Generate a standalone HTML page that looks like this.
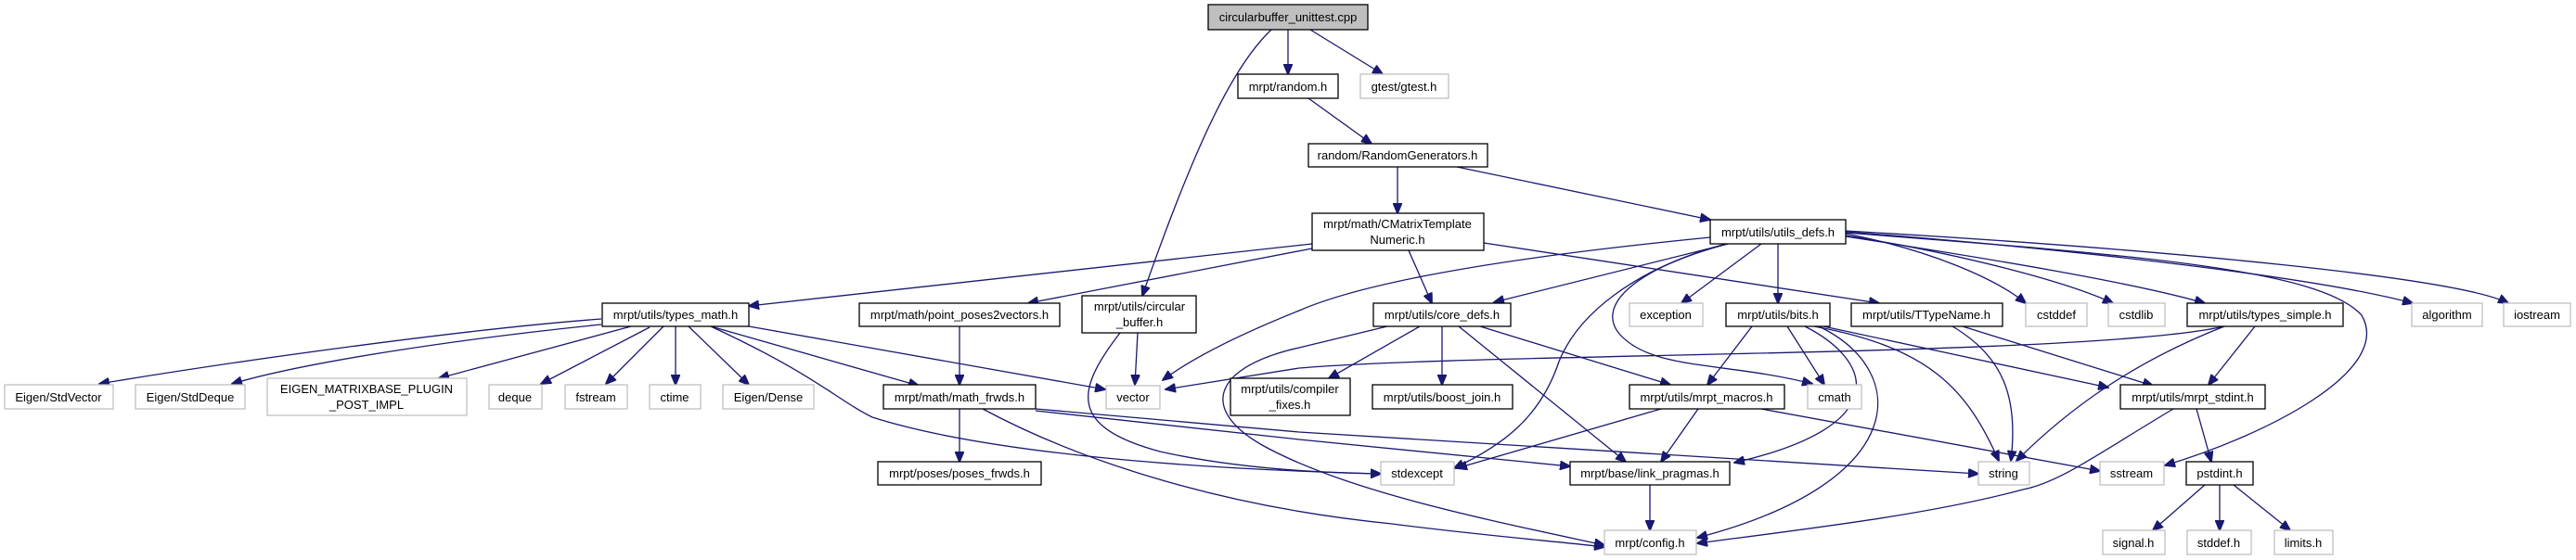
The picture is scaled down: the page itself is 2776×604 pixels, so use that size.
<!DOCTYPE html>
<html><head><meta charset="utf-8"><style>
html,body{margin:0;padding:0;background:#fff;}
svg{display:block;}
text{font-family:"Liberation Sans",Arial,sans-serif;font-size:13px;fill:#000;}
.e{fill:none;stroke:#191970;stroke-width:1.3;}
.n{fill:#fff;stroke:#000;stroke-width:1.3;}
.x{fill:#fff;stroke:#bfbfbf;stroke-width:1.3;}
</style></head><body>
<svg width="2776" height="604" viewBox="0 0 2776 604" xmlns="http://www.w3.org/2000/svg">
<defs><marker id="a" markerUnits="userSpaceOnUse" markerWidth="12" markerHeight="10" refX="11" refY="5" orient="auto"><path d="M0,0 L12,5 L0,10 z" fill="#191970" stroke="#191970"/></marker></defs>
<g class="e" marker-end="url(#a)">
<path d="M1388,32 L1388,80"/>
<path d="M1412,32 L1490,80"/>
<path d="M1370,32 C1330,70 1290,150 1231,319"/>
<path d="M1410,106 L1478,155"/>
<path d="M1506,180 L1506,230"/>
<path d="M1570,180 L1843,237"/>
<path d="M1414,263 L807,330"/>
<path d="M1414,268 L1108,327"/>
<path d="M1518,270 L1543,327"/>
<path d="M1599,262 L2025,327"/>
<path d="M1843,256 C1650,275 1480,300 1400,335 Q1300,375 1253,410"/>
<path d="M2397,352 C2250,385 1600,380 1400,397 L1256,420"/>
<path d="M766,352 C880,405 900,430 940,450 C1050,485 1250,505 1488,511"/>
<path d="M1207,359 C1160,420 1150,460 1250,487 C1330,505 1420,510 1488,511"/>
<path d="M1495,352 L1400,375 C1310,395 1290,440 1360,480 C1450,530 1600,560 1729,588"/>
<path d="M1059,441 C1150,490 1300,545 1500,565 C1600,578 1680,584 1729,590"/>
<path d="M1116,443 L1400,474 L1692,503"/>
<path d="M1116,441 L1400,466 L2132,511"/>
<path d="M807,352 L1191,420"/>
<path d="M766,352 L990,416"/>
<path d="M648,344 C500,355 250,390 107,414"/>
<path d="M648,350 C500,365 330,390 250,414"/>
<path d="M680,352 L473,408"/>
<path d="M700,353 L583,414"/>
<path d="M715,352 L653,414"/>
<path d="M728,352 L728,415"/>
<path d="M742,352 L807,415"/>
<path d="M1034,352 L1034,415"/>
<path d="M1034,441 L1034,498"/>
<path d="M1226,359 L1223,415"/>
<path d="M1862,263 L1610,326"/>
<path d="M1898,263 L1812,327"/>
<path d="M1916,263 L1916,327"/>
<path d="M1860,263 C1760,290 1700,340 1680,390 C1660,450 1620,480 1567,505"/>
<path d="M1862,263 C1760,290 1720,330 1745,360 C1780,400 1860,390 1953,414"/>
<path d="M1989,252 C2080,270 2150,300 2183,327"/>
<path d="M1989,254 C2120,275 2230,305 2277,327"/>
<path d="M1989,255 C2150,280 2300,305 2376,327"/>
<path d="M1989,250 C2250,270 2500,300 2600,327"/>
<path d="M1989,249 C2350,270 2650,300 2703,327"/>
<path d="M1989,251 C2300,275 2500,290 2545,340 C2580,400 2440,470 2333,502"/>
<path d="M1888,352 L1840,415"/>
<path d="M1926,352 L1966,415"/>
<path d="M1945,352 C2020,390 2040,460 1869,499"/>
<path d="M1960,352 C2060,400 2060,520 1829,580"/>
<path d="M1955,352 C2080,375 2120,420 2154,497"/>
<path d="M1965,352 L2272,418"/>
<path d="M2104,352 C2160,385 2175,430 2167,497"/>
<path d="M2115,352 L2320,416"/>
<path d="M2397,352 C2300,390 2230,440 2173,497"/>
<path d="M2430,352 L2380,415"/>
<path d="M2367,441 L2383,498"/>
<path d="M2342,441 C2260,490 2220,520 2180,528 C2080,555 1950,570 1829,586"/>
<path d="M2376,523 L2320,572"/>
<path d="M2392,523 L2392,572"/>
<path d="M2407,523 L2468,572"/>
<path d="M1530,352 L1432,408"/>
<path d="M1554,352 L1554,415"/>
<path d="M1572,352 L1752,498"/>
<path d="M1595,352 L1800,415"/>
<path d="M1790,441 L1570,505"/>
<path d="M1830,441 L1790,498"/>
<path d="M1898,441 L2263,508"/>
<path d="M1778,523 L1778,572"/>
</g>
<g>
<rect x="1302" y="5" width="172" height="27" fill="#bfbfbf" stroke="#000" stroke-width="1.3"/><text x="1388" y="23" text-anchor="middle">circularbuffer_unittest.cpp</text>
<rect class="n" x="1334" y="80" width="108" height="26"/><text x="1388" y="98" text-anchor="middle">mrpt/random.h</text>
<rect class="x" x="1466" y="80" width="95" height="26"/><text x="1513" y="98" text-anchor="middle">gtest/gtest.h</text>
<rect class="n" x="1410" y="155" width="193" height="25"/><text x="1506" y="172" text-anchor="middle">random/RandomGenerators.h</text>
<rect class="n" x="1414" y="230" width="185" height="40"/><text x="1506" y="246" text-anchor="middle">mrpt/math/CMatrixTemplate</text><text x="1506" y="263" text-anchor="middle">Numeric.h</text>
<rect class="n" x="1843" y="237" width="146" height="26"/><text x="1916" y="255" text-anchor="middle">mrpt/utils/utils_defs.h</text>
<rect class="n" x="649" y="327" width="158" height="25"/><text x="728" y="344" text-anchor="middle">mrpt/utils/types_math.h</text>
<rect class="n" x="926" y="327" width="216" height="25"/><text x="1034" y="344" text-anchor="middle">mrpt/math/point_poses2vectors.h</text>
<rect class="n" x="1166" y="319" width="123" height="40"/><text x="1228" y="335" text-anchor="middle">mrpt/utils/circular</text><text x="1228" y="352" text-anchor="middle">_buffer.h</text>
<rect class="n" x="1480" y="327" width="148" height="25"/><text x="1554" y="344" text-anchor="middle">mrpt/utils/core_defs.h</text>
<rect class="x" x="1756" y="327" width="79" height="25"/><text x="1795" y="344" text-anchor="middle">exception</text>
<rect class="n" x="1860" y="327" width="112" height="25"/><text x="1916" y="344" text-anchor="middle">mrpt/utils/bits.h</text>
<rect class="n" x="1995" y="327" width="163" height="25"/><text x="2076" y="344" text-anchor="middle">mrpt/utils/TTypeName.h</text>
<rect class="x" x="2183" y="327" width="66" height="25"/><text x="2216" y="344" text-anchor="middle">cstddef</text>
<rect class="x" x="2272" y="327" width="61" height="25"/><text x="2302" y="344" text-anchor="middle">cstdlib</text>
<rect class="n" x="2357" y="327" width="168" height="25"/><text x="2441" y="344" text-anchor="middle">mrpt/utils/types_simple.h</text>
<rect class="x" x="2599" y="327" width="76" height="25"/><text x="2637" y="344" text-anchor="middle">algorithm</text>
<rect class="x" x="2698" y="327" width="72" height="25"/><text x="2734" y="344" text-anchor="middle">iostream</text>
<rect class="x" x="5" y="415" width="117" height="26"/><text x="63" y="433" text-anchor="middle">Eigen/StdVector</text>
<rect class="x" x="146" y="415" width="118" height="26"/><text x="205" y="433" text-anchor="middle">Eigen/StdDeque</text>
<rect class="x" x="288" y="408" width="215" height="40"/><text x="395" y="424" text-anchor="middle">EIGEN_MATRIXBASE_PLUGIN</text><text x="395" y="441" text-anchor="middle">_POST_IMPL</text>
<rect class="x" x="527" y="415" width="57" height="26"/><text x="555" y="433" text-anchor="middle">deque</text>
<rect class="x" x="609" y="415" width="67" height="26"/><text x="642" y="433" text-anchor="middle">fstream</text>
<rect class="x" x="700" y="415" width="55" height="26"/><text x="727" y="433" text-anchor="middle">ctime</text>
<rect class="x" x="779" y="415" width="98" height="26"/><text x="828" y="433" text-anchor="middle">Eigen/Dense</text>
<rect class="n" x="952" y="415" width="164" height="26"/><text x="1034" y="433" text-anchor="middle">mrpt/math/math_frwds.h</text>
<rect class="x" x="1192" y="416" width="58" height="25"/><text x="1221" y="433" text-anchor="middle">vector</text>
<rect class="n" x="1326" y="408" width="129" height="40"/><text x="1390" y="424" text-anchor="middle">mrpt/utils/compiler</text><text x="1390" y="441" text-anchor="middle">_fixes.h</text>
<rect class="n" x="1479" y="415" width="151" height="26"/><text x="1554" y="433" text-anchor="middle">mrpt/utils/boost_join.h</text>
<rect class="n" x="1756" y="415" width="167" height="26"/><text x="1839" y="433" text-anchor="middle">mrpt/utils/mrpt_macros.h</text>
<rect class="x" x="1948" y="415" width="58" height="26"/><text x="1977" y="433" text-anchor="middle">cmath</text>
<rect class="n" x="2285" y="415" width="156" height="26"/><text x="2363" y="433" text-anchor="middle">mrpt/utils/mrpt_stdint.h</text>
<rect class="n" x="946" y="498" width="176" height="25"/><text x="1034" y="515" text-anchor="middle">mrpt/poses/poses_frwds.h</text>
<rect class="x" x="1488" y="498" width="79" height="25"/><text x="1527" y="515" text-anchor="middle">stdexcept</text>
<rect class="n" x="1692" y="498" width="172" height="25"/><text x="1778" y="515" text-anchor="middle">mrpt/base/link_pragmas.h</text>
<rect class="x" x="2132" y="498" width="55" height="25"/><text x="2159" y="515" text-anchor="middle">string</text>
<rect class="x" x="2263" y="498" width="69" height="25"/><text x="2297" y="515" text-anchor="middle">sstream</text>
<rect class="n" x="2356" y="498" width="72" height="25"/><text x="2392" y="515" text-anchor="middle">pstdint.h</text>
<rect class="x" x="1729" y="572" width="99" height="26"/><text x="1778" y="590" text-anchor="middle">mrpt/config.h</text>
<rect class="x" x="2266" y="572" width="67" height="26"/><text x="2299" y="590" text-anchor="middle">signal.h</text>
<rect class="x" x="2357" y="572" width="69" height="26"/><text x="2391" y="590" text-anchor="middle">stddef.h</text>
<rect class="x" x="2451" y="572" width="63" height="26"/><text x="2482" y="590" text-anchor="middle">limits.h</text>
</g>
</svg>
</body></html>
